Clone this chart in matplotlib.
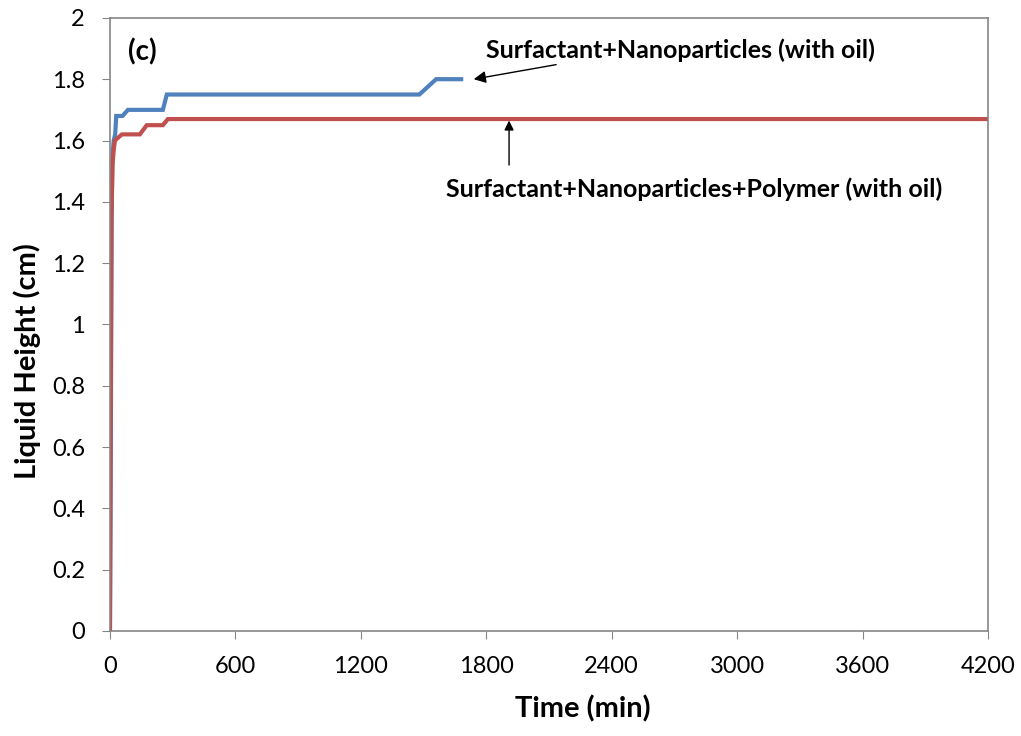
import matplotlib.pyplot as plt

# time (min) and liquid height (cm)
t_snp = [0, 4, 8, 12, 18, 25, 30, 60, 86, 253, 272, 1480, 1560, 1680]
h_snp = [0, 0.6, 1.35, 1.55, 1.60, 1.62, 1.68, 1.68, 1.70, 1.70, 1.75, 1.75, 1.80, 1.80]

t_snpp = [0, 3, 7, 12, 18, 24, 57, 143, 176, 253, 277, 4200]
h_snpp = [0, 0.6, 1.35, 1.52, 1.57, 1.60, 1.62, 1.62, 1.65, 1.65, 1.67, 1.67]

x_ticks = [0, 600, 1200, 1800, 2400, 3000, 3600, 4200]
y_ticks = [0, 0.2, 0.4, 0.6, 0.8, 1, 1.2, 1.4, 1.6, 1.8, 2]
y_labels = ["0", "0.2", "0.4", "0.6", "0.8", "1", "1.2", "1.4", "1.6", "1.8", "2"]

plt.rcParams["font.family"] = ["Lato", "DejaVu Sans"]

fig = plt.figure(figsize=(10.21, 7.36), dpi=100)
ax = fig.add_axes([0.1077, 0.1427, 0.86, 0.833])

ax.plot(t_snp, h_snp, color="#4f81bd", lw=3, solid_joinstyle="miter")
ax.plot(t_snpp, h_snpp, color="#c0504d", lw=3, solid_joinstyle="miter")

ax.set_xlim(0, 4200)
ax.set_ylim(0, 2)
ax.set_xticks(x_ticks)
ax.set_yticks(y_ticks)
ax.set_yticklabels(y_labels)
ax.tick_params(labelsize=17, length=6, color="#868686")
ax.tick_params(axis="x", pad=12)
ax.tick_params(axis="y", pad=12)
for s in ax.spines.values():
    s.set_color("#868686")
    s.set_linewidth(1.2)

ax.set_xlabel("Time (min)", fontsize=21, fontweight="bold")
ax.xaxis.set_label_coords(0.539, -0.105)
ax.set_ylabel("Liquid Height (cm)", fontsize=21, fontweight="bold")
ax.yaxis.set_label_coords(-0.078, 0.44)

ax.text(86, 1.89, "(c)", fontsize=20, fontweight="bold", va="center")

ax.annotate("Surfactant+Nanoparticles (with oil)", xy=(1740, 1.80),
            xytext=(1800, 1.895), fontsize=18, fontweight="bold", va="center",
            arrowprops=dict(arrowstyle="-|>", color="black", lw=1,
                            shrinkA=0, shrinkB=0, mutation_scale=18,
                            relpos=(0.22, 0)))
ax.annotate("", xy=(1909, 1.665), xytext=(1909, 1.52),
            arrowprops=dict(arrowstyle="-|>", color="black", lw=1,
                            shrinkA=0, shrinkB=0, mutation_scale=14))
ax.text(2792, 1.441, "Surfactant+Nanoparticles+Polymer (with oil)",
        fontsize=18, fontweight="bold", ha="center", va="center")

fig.savefig("out.png", dpi=100)
